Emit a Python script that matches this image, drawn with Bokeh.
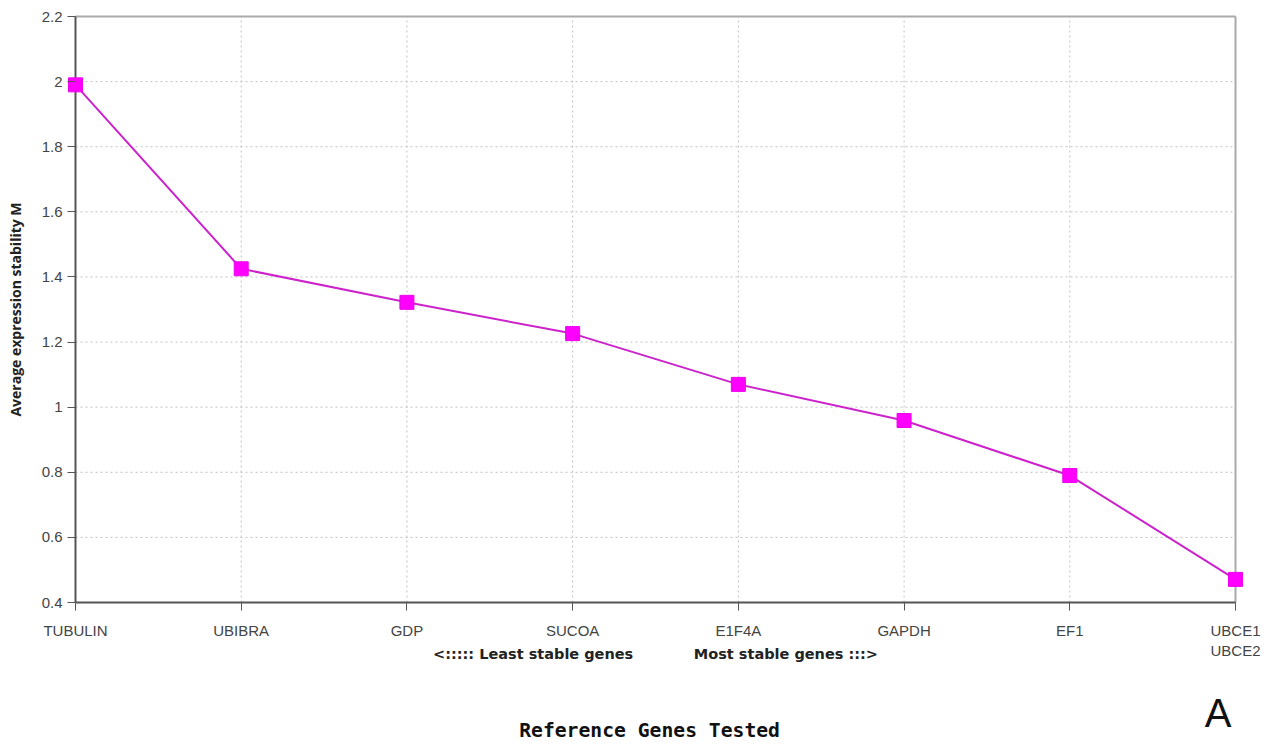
from bokeh.plotting import figure
from bokeh.models import Range1d, FixedTicker, Title, ColumnDataSource
from bokeh.embed import file_html
from bokeh.resources import INLINE

genes = ["TUBULIN", "UBIBRA", "GDP", "SUCOA", "E1F4A", "GAPDH", "EF1", "UBCE1\nUBCE2"]
stability_m = [1.99, 1.425, 1.322, 1.226, 1.070, 0.959, 0.790, 0.471]
y_ticks = [0.4, 0.6, 0.8, 1.0, 1.2, 1.4, 1.6, 1.8, 2.0, 2.2]
y_tick_labels = ["0.4", "0.6", "0.8", "1", "1.2", "1.4", "1.6", "1.8", "2", "2.2"]

xs = list(range(len(genes)))
x0, x1 = 0, len(genes) - 1
y0, y1 = 0.4, 2.2
PAD = 8  # pixels of room so end markers are not clipped
xpad = PAD * (x1 - x0) / 1160
ypad = PAD * (y1 - y0) / 586

src = ColumnDataSource(dict(x=xs, m=stability_m))

p = figure(width=1276, height=746, output_backend="svg", toolbar_location=None,
           x_range=Range1d(x0 - xpad, x1 + xpad), y_range=Range1d(y0 - ypad, y1 + ypad),
           min_border_left=75 - PAD, min_border_right=41 - PAD,
           min_border_top=16 - PAD, min_border_bottom=746 - 602 - PAD)
p.background_fill_color = "white"
p.border_fill_color = "white"
p.outline_line_color = None
p.xgrid.grid_line_color = None
p.ygrid.grid_line_color = None

# dotted grid drawn through the data scales
p.segment(x0=xs[1:], y0=[y0] * (len(xs) - 1), x1=xs[1:], y1=[y1] * (len(xs) - 1),
          line_color="#c0c0c0", line_dash="2 3", line_width=1)
p.segment(x0=[x0] * (len(y_ticks) - 1), y0=y_ticks[1:], x1=[x1] * (len(y_ticks) - 1), y1=y_ticks[1:],
          line_color="#c0c0c0", line_dash="2 3", line_width=1)

# frame: light top/right, dark left/bottom axis lines
p.segment(x0=[x0, x1], y0=[y1, y0], x1=[x1, x1], y1=[y1, y1], line_color="#aaaaaa", line_width=2)
p.segment(x0=[x0, x0], y0=[y0, y0], x1=[x1, x0], y1=[y0, y1], line_color="#555555", line_width=2)

p.line("x", "m", source=src, line_color="#CC22CC", line_width=2)
p.scatter("x", "m", source=src, marker="square", size=14, fill_color="#FF00FF", line_color="#EE00EE")

p.xaxis.ticker = FixedTicker(ticks=xs)
p.xaxis.major_label_overrides = {i: g for i, g in enumerate(genes)}
p.yaxis.ticker = FixedTicker(ticks=y_ticks)
p.yaxis.major_label_overrides = {t: l for t, l in zip(y_ticks, y_tick_labels)}

for ax in (p.xaxis, p.yaxis):
    ax.axis_line_color = None
    ax.major_tick_line_color = "#555555"
    ax.major_tick_line_width = 1
    ax.major_tick_in = PAD
    ax.major_tick_out = 0
    ax.minor_tick_line_color = None
    ax.major_label_text_font = "Liberation Sans"
    ax.major_label_text_font_size = "15px"
    ax.major_label_text_color = "#444444"

p.xaxis.major_label_standoff = 11
p.yaxis.major_label_standoff = 5

p.yaxis.axis_label = "Average expression stability M"
p.yaxis.axis_label_text_font = "Open Sans"
p.yaxis.axis_label_text_font_style = "bold"
p.yaxis.axis_label_text_font_size = "14px"
p.yaxis.axis_label_text_color = "#222222"
p.yaxis.axis_label_standoff = 14

gap = "\u00a0" * 12
p.xaxis.axis_label = "<::::: Least stable genes" + gap + "Most stable genes :::>"
p.xaxis.axis_label_text_font = "DejaVu Sans"
p.xaxis.axis_label_text_font_style = "bold"
p.xaxis.axis_label_text_font_size = "14.5px"
p.xaxis.axis_label_text_color = "#222222"
p.xaxis.axis_label_standoff = -16

# spacer, then the panel letter, then the x title overlapping it
p.add_layout(Title(text="\u00a0", text_font="Liberation Sans", text_font_size="10px",
                   standoff=21), "below")
p.add_layout(Title(text="A", align="right", offset=12, vertical_align="top", text_font="Liberation Sans",
                   text_font_style="normal", text_font_size="40px", text_color="#111111",
                   standoff=-15), "below")
p.add_layout(Title(text="Reference Genes Tested\u00a0", align="center", vertical_align="middle",
                   text_font="DejaVu Sans Mono", text_font_style="bold", text_font_size="19.7px",
                   text_color="#111111", standoff=-24), "below")

open("out.html", "w").write(file_html(p, INLINE))
